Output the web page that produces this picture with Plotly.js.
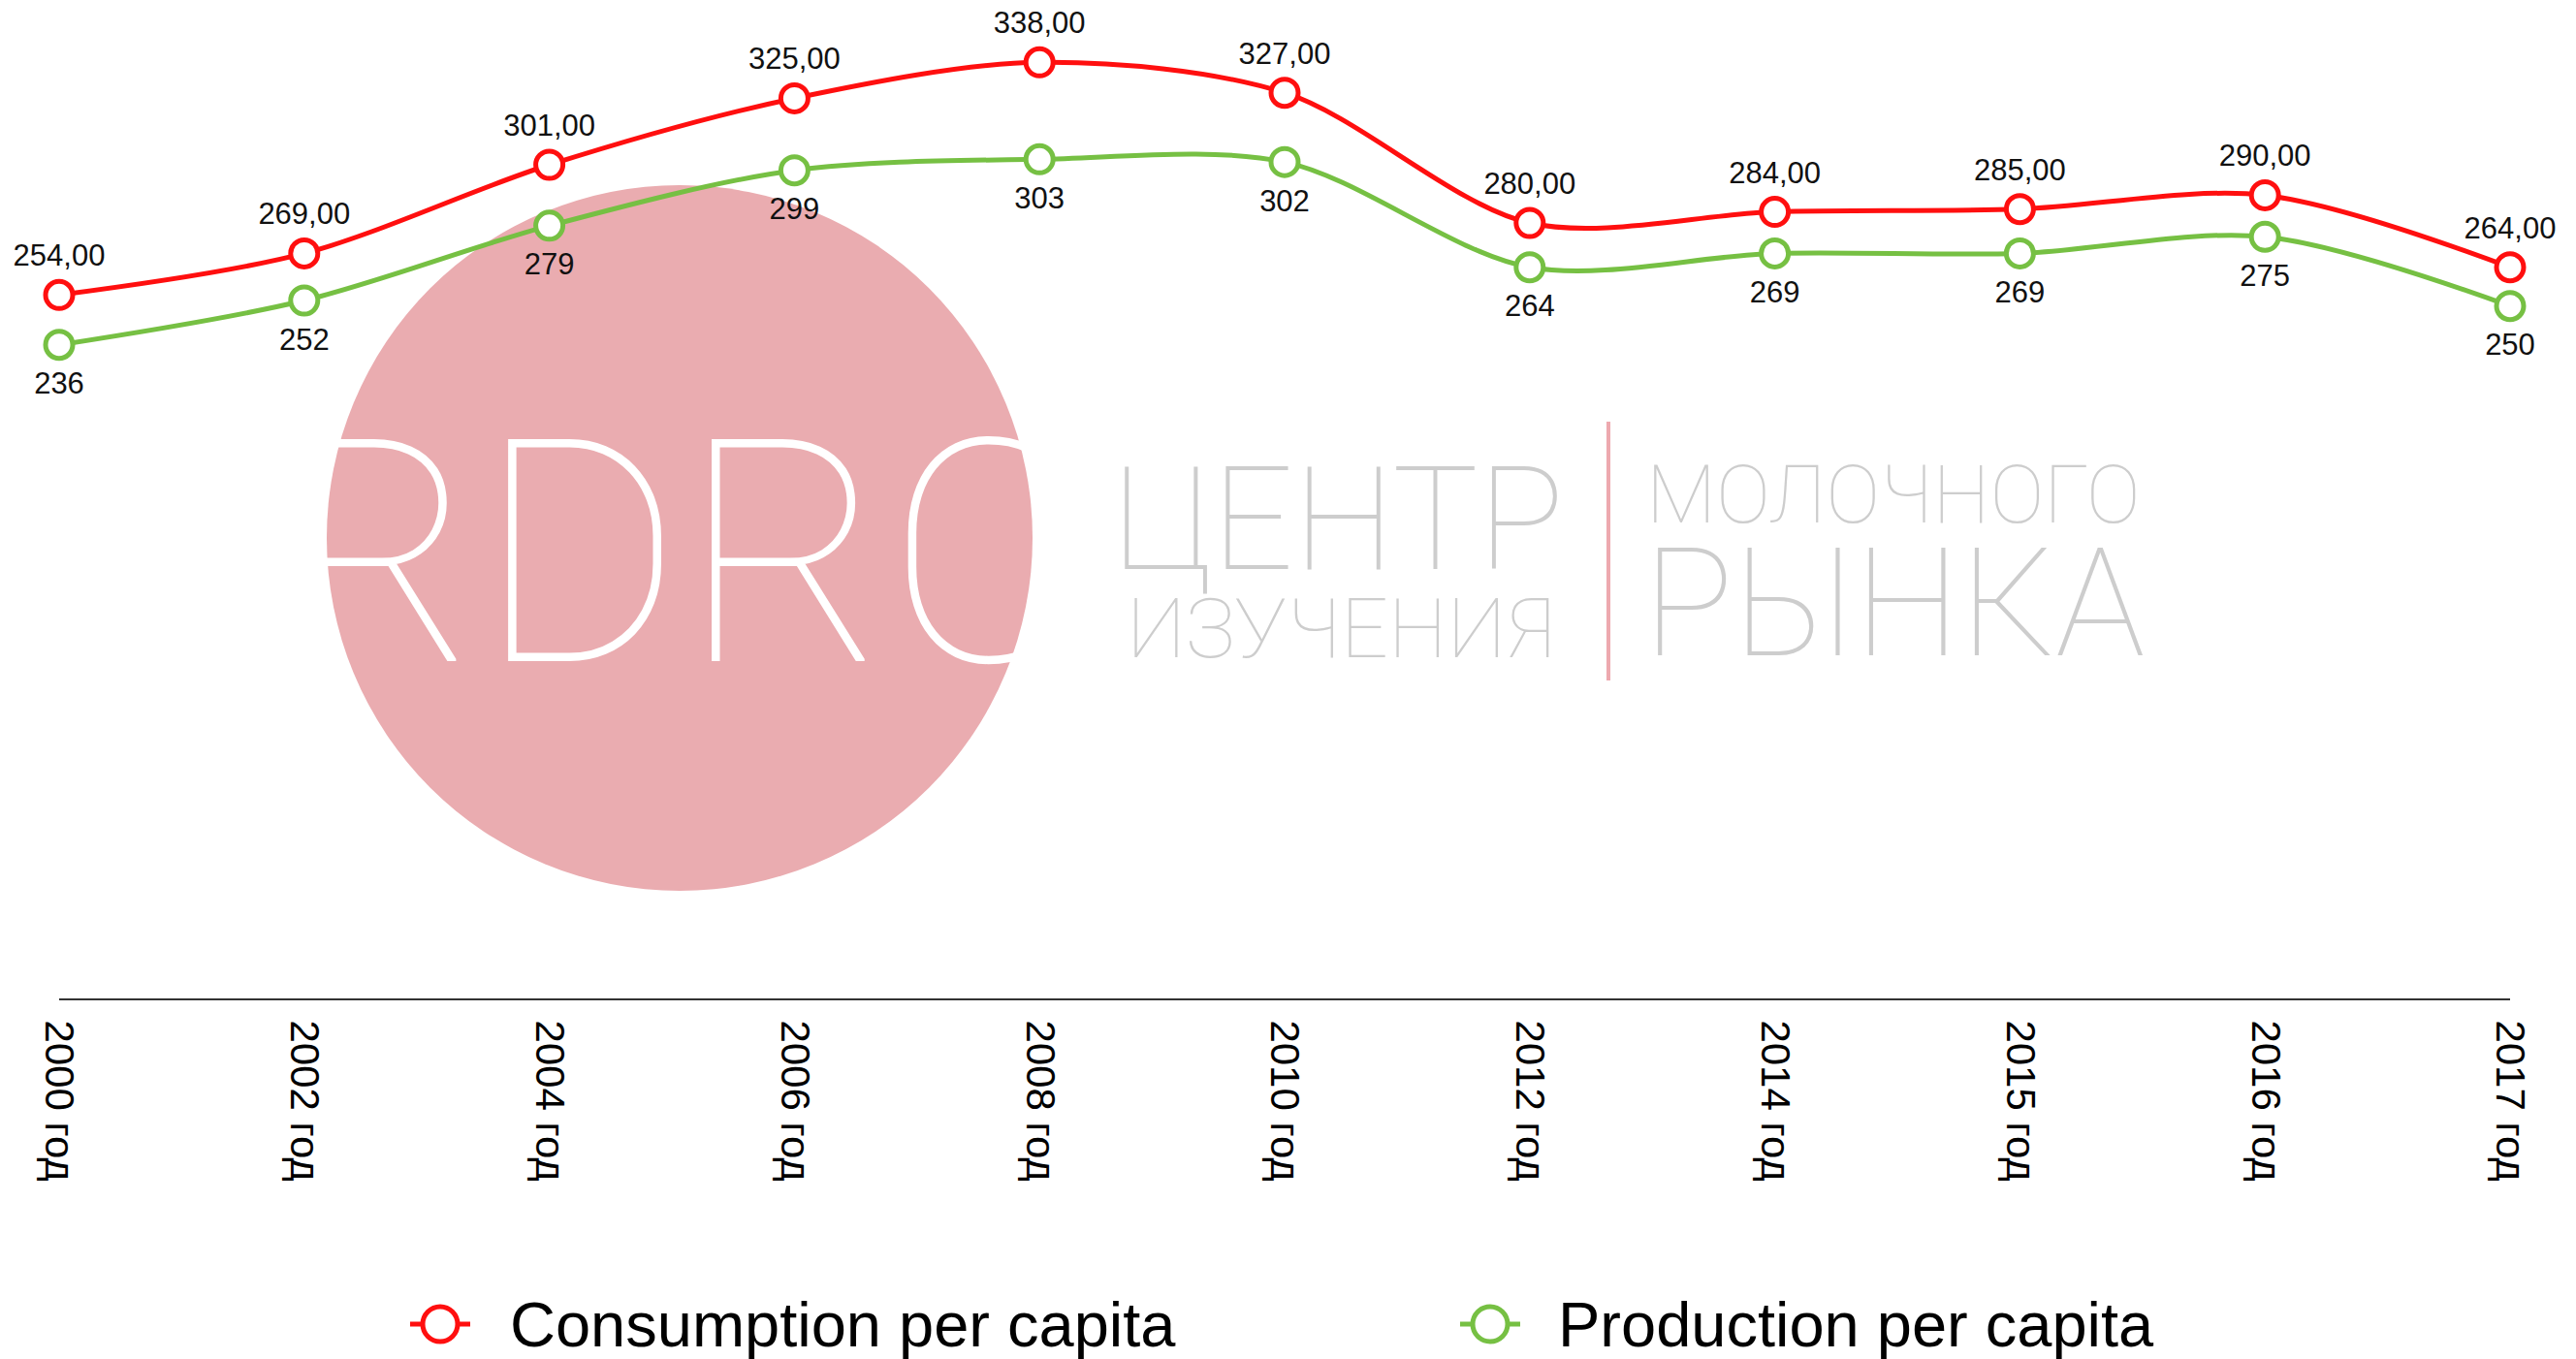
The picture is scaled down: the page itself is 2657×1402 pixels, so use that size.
<!DOCTYPE html>
<html>
<head>
<meta charset="utf-8">
<script src="https://cdn.plot.ly/plotly-3.0.1.min.js"></script>
<style>
  html, body { margin: 0; padding: 0; background: #ffffff; }
  #chart { width: 2657px; height: 1402px; }
</style>
</head>
<body>
<div id="chart"></div>
<script>
// ---- data ----
const years = ["2000 год", "2002 год", "2004 год", "2006 год", "2008 год", "2010 год",
               "2012 год", "2014 год", "2015 год", "2016 год", "2017 год"];
const consumption = [254, 269, 301, 325, 338, 327, 280, 284, 285, 290, 264];
const production  = [236, 252, 279, 299, 303, 302, 264, 269, 269, 275, 250];
const seriesNames = ["Consumption per capita", "Production per capita"];

// ---- layout helpers ----
const W = 2657, H = 1402;
const M = { l: 61, r: 68, t: 0, b: 372 };
const PW = W - M.l - M.r, PH = H - M.t - M.b;
const px = x => (x - M.l) / PW;           // pixel x -> paper
const py = y => (M.t + PH - y) / PH;      // pixel y -> paper

const RED = "#FF0F0F";
const GREEN = "#76C043";
const PINK = "#EAACB0";
const GREY = "#CDCDCD";
const FONT = "Liberation Sans, Arial, Helvetica, sans-serif";
const THIN = "Roboto";

const fmtComma = v => v.toFixed(2).replace(".", ",");

function lineTrace(y, name, color) {
  return {
    x: years, y: y, name: name,
    type: "scatter", mode: "lines+markers",
    line: { color: color, width: 5, shape: "spline", smoothing: 0.9 },
    marker: { symbol: "circle", size: 28, color: "#ffffff", line: { color: color, width: 5 } },
    cliponaxis: false, hoverinfo: "skip", showlegend: false
  };
}
function labelTrace(y, text, pos, pad) {
  return {
    x: years, y: y, type: "scatter", mode: "markers+text",
    text: text, textposition: pos,
    textfont: { family: FONT, size: 31, color: "#111" },
    marker: { size: pad, color: "rgba(0,0,0,0)", line: { width: 0 } },
    cliponaxis: false, hoverinfo: "skip", showlegend: false
  };
}

const traces = [
  lineTrace(consumption, seriesNames[0], RED),
  lineTrace(production, seriesNames[1], GREEN),
  labelTrace(consumption, consumption.map(fmtComma), "top center", 34),
  labelTrace(production, production.map(v => String(v)), "bottom center", 42)
];

// watermark geometry (pixels)
const circ = { cx: 701, cy: 555, r: 364 };

// legend geometry (pixels)
const legendItems = [
  { name: seriesNames[0], color: RED,   cx: 454,  tx: 524 },
  { name: seriesNames[1], color: GREEN, cx: 1537, tx: 1605 }
];
const legY = 1366;

const shapes = [
  {
    type: "circle", xref: "paper", yref: "paper", layer: "below",
    x0: px(circ.cx - circ.r), x1: px(circ.cx + circ.r),
    y0: py(circ.cy + circ.r), y1: py(circ.cy - circ.r),
    fillcolor: PINK, line: { width: 0 }
  },
  {
    type: "line", xref: "paper", yref: "paper", layer: "below",
    x0: px(1659), x1: px(1659), y0: py(435), y1: py(702),
    line: { color: "#EDA9AF", width: 4 }
  }
];
const annotations = [
  { text: "RDRC", xref: "paper", yref: "paper", x: px(702), y: py(572),
    xanchor: "center", yanchor: "middle", showarrow: false,
    font: { family: THIN, size: 322, color: "#ffffff", weight: 100 } },
  { text: "ЦЕНТР", xref: "paper", yref: "paper", x: px(1380), y: py(536),
    xanchor: "center", yanchor: "middle", showarrow: false,
    font: { family: THIN, size: 148, color: GREY, weight: 100 } },
  { text: "ИЗУЧЕНИЯ", xref: "paper", yref: "paper", x: px(1383), y: py(648),
    xanchor: "center", yanchor: "middle", showarrow: false,
    font: { family: THIN, size: 86, color: GREY, weight: 100 } },
  { text: "МОЛОЧНОГО", xref: "paper", yref: "paper", x: px(1953), y: py(510),
    xanchor: "center", yanchor: "middle", showarrow: false,
    font: { family: THIN, size: 84, color: GREY, weight: 100 } },
  { text: "РЫНКА", xref: "paper", yref: "paper", x: px(1954), y: py(623),
    xanchor: "center", yanchor: "middle", showarrow: false,
    font: { family: THIN, size: 155, color: GREY, weight: 100 } }
];

legendItems.forEach(it => {
  shapes.push({
    type: "line", xref: "paper", yref: "paper",
    x0: px(it.cx - 31), x1: px(it.cx + 31), y0: py(legY), y1: py(legY),
    line: { color: it.color, width: 5 }
  });
  shapes.push({
    type: "circle", xref: "paper", yref: "paper",
    xsizemode: "pixel", ysizemode: "pixel",
    xanchor: px(it.cx), yanchor: py(legY),
    x0: -18, x1: 18, y0: -18, y1: 18,
    fillcolor: "#ffffff", line: { color: it.color, width: 5 }
  });
  annotations.push({
    text: it.name, xref: "paper", yref: "paper",
    x: px(it.tx), y: py(legY), xanchor: "left", yanchor: "middle",
    showarrow: false, font: { family: FONT, size: 65, color: "#000" }
  });
});

const layout = {
  width: W, height: H,
  margin: M,
  paper_bgcolor: "#ffffff", plot_bgcolor: "rgba(0,0,0,0)",
  showlegend: false,
  font: { family: FONT, color: "#000" },
  xaxis: {
    type: "category", range: [0, years.length - 1],
    showgrid: false, zeroline: false,
    showline: true, linecolor: "#333", linewidth: 2,
    ticks: "", tickangle: 90,
    tickfont: { family: FONT, size: 42, color: "#000" },
    ticklabelstandoff: 12, fixedrange: true
  },
  yaxis: {
    range: [0, 360.5], visible: false, showgrid: false, zeroline: false, fixedrange: true
  },
  shapes: shapes,
  annotations: annotations
};

Plotly.newPlot("chart", traces, layout, { staticPlot: true, displayModeBar: false });
</script>
</body>
</html>
